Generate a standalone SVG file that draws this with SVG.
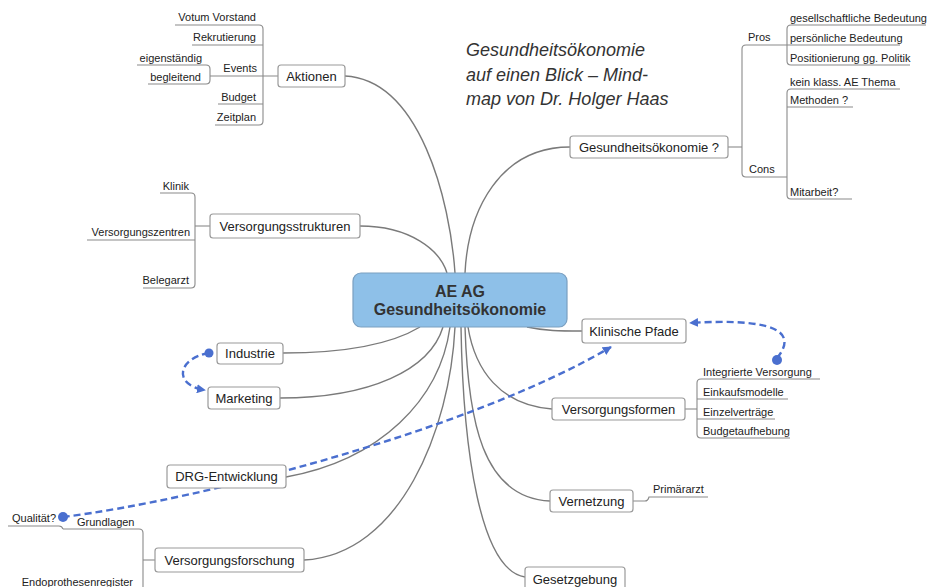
<svg xmlns="http://www.w3.org/2000/svg" width="927" height="587" viewBox="0 0 927 587">
<style>
.bg{fill:#ffffff}
.box{fill:#ffffff;stroke:#9a9a9a;stroke-width:1.2}
.root{fill:#8ec0e8;stroke:#7a9fc0;stroke-width:1.2}
.con{fill:none;stroke:#7a7a7a;stroke-width:1.4}
.br{fill:none;stroke:#8a8a8a;stroke-width:1.1}
.rel{fill:none;stroke:#4a6fcf;stroke-width:2.4;stroke-dasharray:7 4}
.dot{fill:#4a6fcf}
.n{font-family:"Liberation Sans",Arial,sans-serif;font-size:13px;fill:#222;text-anchor:middle}
.s{font-family:"Liberation Sans",Arial,sans-serif;font-size:11px;fill:#222}
.e{text-anchor:end}
.r{font-family:"Liberation Sans",Arial,sans-serif;font-size:16px;font-weight:bold;fill:#333;text-anchor:middle}
.t{font-family:"Liberation Sans",Arial,sans-serif;font-size:18px;font-style:italic;fill:#333}
</style>
<defs>
<marker id="arr" viewBox="0 0 10 10" refX="9" refY="5" markerWidth="9" markerHeight="9" markerUnits="userSpaceOnUse" orient="auto">
<path d="M0,0 L10,5 L0,10 Z" fill="#4a6fcf"/>
</marker>
</defs>
<rect class="bg" x="0" y="0" width="927" height="587"/>

<g id="title">
<text class="t" x="466" y="56">Gesundheitsökonomie</text>
<text class="t" x="466" y="80.5">auf einen Blick – Mind-</text>
<text class="t" x="466" y="105">map von Dr. Holger Haas</text>
</g>

<g id="connectors">
<path class="con" d="M345,76 C420,80 450,200 455,273"/>
<path class="con" d="M360,226 C410,226 440,250 447,273"/>
<path class="con" d="M570,147 C500,147 468,210 465,273"/>
<path class="con" d="M283,353 C340,353 390,345 420,327"/>
<path class="con" d="M280,398 C370,398 430,370 443,327"/>
<path class="con" d="M286,477 C380,460 440,400 450,327"/>
<path class="con" d="M304,560 C400,555 450,430 455,327"/>
<path class="con" d="M525,577 C480,570 463,450 461,327"/>
<path class="con" d="M550,501 C482,498 468,420 465,327"/>
<path class="con" d="M552,409 C500,405 475,370 468,327"/>
<path class="con" d="M527,327 C545,331 560,331 582,331"/>

<!-- Aktionen branches -->
<path class="br" d="M278,76 H210"/>
<path class="br" d="M175,25 H259 Q263,25 263,29 V121 Q263,125 259,125 H215"/>
<path class="br" d="M192,45 H263"/>
<path class="br" d="M218,104 H263"/>
<path class="br" d="M137,65 H206 Q210,65 210,69 V80 Q210,84 206,84 H148"/>
<!-- Versorgungsstrukturen branches -->
<path class="br" d="M210,226 H195"/>
<path class="br" d="M160,193 H191 Q195,193 195,197 V284 Q195,288 191,288 H143"/>
<path class="br" d="M87,240 H195"/>
<!-- Gesundheitsoekonomie ? branches -->
<path class="br" d="M728,147 H742"/>
<path class="br" d="M900,45 H746 Q742,45 742,49 V173 Q742,177 746,177 H787"/>
<path class="br" d="M926,25 H791 Q787,25 787,29 V61 Q787,65 791,65 H910"/>
<path class="br" d="M900,89 H791 Q787,89 787,93 V195 Q787,199 791,199 H852"/>
<path class="br" d="M787,107 H853"/>
<!-- Versorgungsformen branches -->
<path class="br" d="M685,409 H697"/>
<path class="br" d="M820,379 H701 Q697,379 697,383 V434 Q697,438 701,438 H790"/>
<path class="br" d="M697,399 H788"/>
<path class="br" d="M697,419 H775"/>
<!-- Vernetzung branch -->
<path class="br" d="M633,501 H645 Q648,501 649,497 H708"/>
<!-- Versorgungsforschung branches -->
<path class="br" d="M155,560 H143"/>
<path class="br" d="M63,529 H139 Q143,529 143,533 V590"/>
<path class="br" d="M8,526 H59 Q62,526 63,529"/>

<!-- relationships -->
<path class="rel" d="M777,358 C800,330 770,318 690,323" marker-end="url(#arr)"/>
<path class="rel" d="M209,353 C178,358 172,385 205,390" marker-end="url(#arr)"/>
<path class="rel" d="M63,517 C200,500 470,430 611,347" marker-end="url(#arr)"/>
<circle class="dot" cx="777" cy="360" r="5"/>
<circle class="dot" cx="209" cy="353" r="4.5"/>
<circle class="dot" cx="63" cy="517" r="5"/>
</g>

<g id="root">
<rect class="root" x="353" y="273" width="214" height="54" rx="8"/>
<text class="r" x="460" y="297">AE AG</text>
<text class="r" x="460" y="315">Gesundheitsökonomie</text>
</g>

<g id="aktionen">
<rect class="box" x="278" y="65" width="67" height="22" rx="3"/>
<text class="n" x="311.5" y="80.5">Aktionen</text>
<text class="s e" x="256" y="21">Votum Vorstand</text>
<text class="s e" x="256" y="41">Rekrutierung</text>
<text class="s e" x="257" y="72">Events</text>
<text class="s e" x="202" y="62">eigenständig</text>
<text class="s e" x="201" y="81">begleitend</text>
<text class="s e" x="256" y="101">Budget</text>
<text class="s e" x="256" y="121">Zeitplan</text>
</g>

<g id="versorgungsstrukturen">
<rect class="box" x="210" y="214" width="150" height="24" rx="3"/>
<text class="n" x="285" y="230.5">Versorgungsstrukturen</text>
<text class="s e" x="189" y="190">Klinik</text>
<text class="s e" x="190" y="236">Versorgungszentren</text>
<text class="s e" x="189" y="284">Belegarzt</text>
</g>

<g id="gesundheitsoekonomie">
<rect class="box" x="570" y="136" width="158" height="22" rx="3"/>
<text class="n" x="649" y="151.5">Gesundheitsökonomie ?</text>
<text class="s" x="748" y="41">Pros</text>
<text class="s" x="749" y="173">Cons</text>
<text class="s" x="790" y="22">gesellschaftliche Bedeutung</text>
<text class="s" x="790" y="42">persönliche Bedeutung</text>
<text class="s" x="790" y="62">Positionierung gg. Politik</text>
<text class="s" x="790" y="86">kein klass. AE Thema</text>
<text class="s" x="790" y="104">Methoden ?</text>
<text class="s" x="790" y="196">Mitarbeit?</text>
</g>

<g id="klinische-pfade">
<rect class="box" x="582" y="319" width="104" height="24" rx="3"/>
<text class="n" x="634" y="335.5">Klinische Pfade</text>
</g>

<g id="industrie">
<rect class="box" x="217" y="343" width="66" height="21" rx="3"/>
<text class="n" x="250" y="358">Industrie</text>
</g>

<g id="marketing">
<rect class="box" x="208" y="387" width="72" height="22" rx="3"/>
<text class="n" x="244" y="402.5">Marketing</text>
</g>

<g id="versorgungsformen">
<rect class="box" x="552" y="398" width="133" height="22" rx="3"/>
<text class="n" x="618.5" y="413.5">Versorgungsformen</text>
<text class="s" x="703" y="376">Integrierte Versorgung</text>
<text class="s" x="703" y="396">Einkaufsmodelle</text>
<text class="s" x="703" y="416">Einzelverträge</text>
<text class="s" x="703" y="435">Budgetaufhebung</text>
</g>

<g id="drg-entwicklung">
<rect class="box" x="167" y="465" width="119" height="23" rx="3"/>
<text class="n" x="226.5" y="481">DRG-Entwicklung</text>
</g>

<g id="vernetzung">
<rect class="box" x="550" y="490" width="83" height="22" rx="3"/>
<text class="n" x="591.5" y="505.5">Vernetzung</text>
<text class="s" x="653" y="493">Primärarzt</text>
</g>

<g id="versorgungsforschung">
<rect class="box" x="155" y="548" width="149" height="24" rx="3"/>
<text class="n" x="229.5" y="564.5">Versorgungsforschung</text>
<text class="s" x="77" y="526">Grundlagen</text>
<text class="s" x="12" y="522">Qualität?</text>
<text class="s e" x="133" y="586">Endoprothesenregister</text>
</g>

<g id="gesetzgebung">
<rect class="box" x="525" y="567" width="100" height="24" rx="3"/>
<text class="n" x="575" y="583.5">Gesetzgebung</text>
</g>
</svg>
